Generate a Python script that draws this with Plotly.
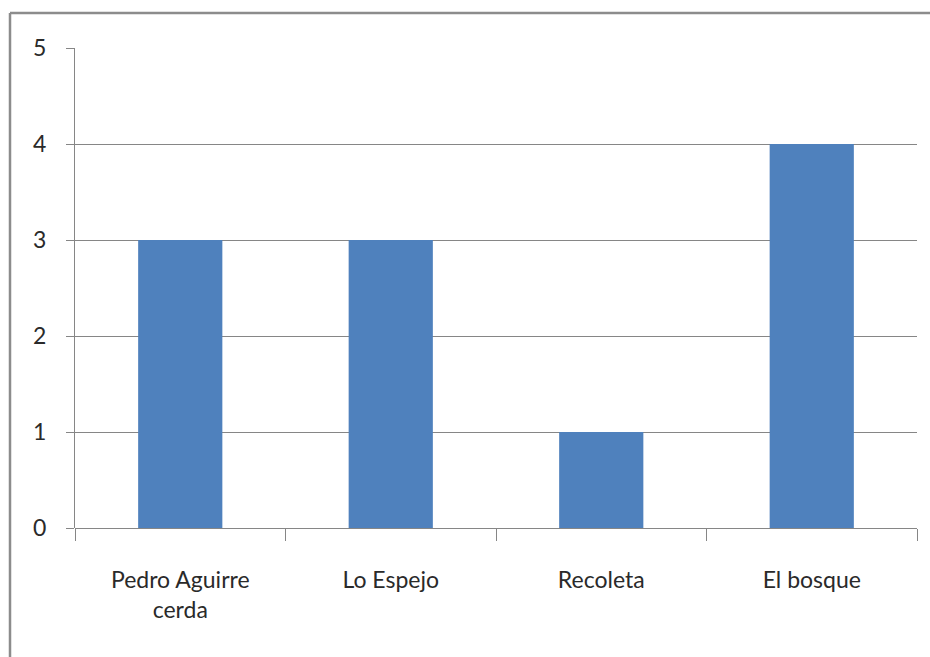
import plotly.graph_objects as go

categories = ["Pedro Aguirre<br>cerda", "Lo Espejo", "Recoleta", "El bosque"]
values = [3, 3, 1, 4]
y_ticks = [0, 1, 2, 3, 4, 5]

W, H = 930, 657
L, R, T, B = 75, 13, 48, 129
pw, ph = W - L - R, H - T - B

def px_x(x):
    return (x - L) / pw

def px_y(y):
    return (H - B - y) / ph

fig = go.Figure(go.Bar(x=categories, y=values, marker_color="#4F81BD",
                       marker_line_width=0))

grid = "#868686"
fig.update_layout(
    width=W, height=H,
    margin=dict(l=L, r=R, t=T, b=B),
    paper_bgcolor="white", plot_bgcolor="white",
    bargap=0.6, showlegend=False,
    font=dict(family="Lato", size=23, color="#2a2a2a"),
    xaxis=dict(type="category", tickson="boundaries", ticks="outside",
               ticklen=12, tickcolor=grid, showline=False, showgrid=False,
               ticklabelstandoff=36, tickfont=dict(size=23)),
    yaxis=dict(range=[0, 5], tickvals=y_ticks, showgrid=True, gridcolor=grid,
               gridwidth=1, showline=True, linecolor=grid, linewidth=1,
               ticks="outside", ticklen=8, tickcolor=grid,
               ticklabelstandoff=15, zeroline=True, zerolinecolor=grid,
               zerolinewidth=1, tickfont=dict(size=23)),
    shapes=[
        dict(type="line", xref="paper", yref="paper",
             x0=px_x(10), x1=px_x(10), y0=px_y(13), y1=px_y(H + 5),
             line=dict(color="#8c8c8c", width=2.5)),
        dict(type="line", xref="paper", yref="paper",
             x0=px_x(10), x1=px_x(W + 5), y0=px_y(13), y1=px_y(13),
             line=dict(color="#8c8c8c", width=2.5)),
    ],
)

fig.write_html("out.html", config={"displayModeBar": False},
               post_script="document.body.style.margin='0px';document.body.style.overflow='hidden';")
